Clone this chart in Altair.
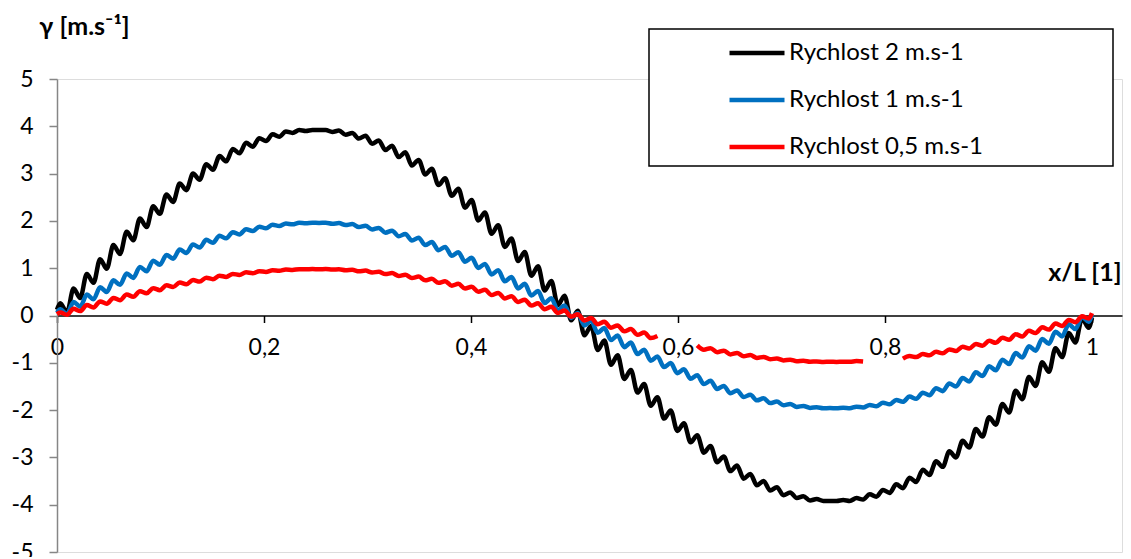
import altair as alt
import pandas as pd

SERIES = ["Rychlost 2 m.s-1", "Rychlost 1 m.s-1", "Rychlost 0,5 m.s-1"]
COLORS = ["#000000", "#0070C0", "#FF0000"]

N = 156  # sampled ripple extremes between the end points
X = [0.0] + [(k + 0.5) / N for k in range(N)] + [1.0]

BLACK = [0.12,
    0.26, 0.06, 0.57, 0.37, 0.88, 0.69, 1.19, 0.99, 1.49, 1.30, 1.77, 1.59, 2.05, 1.87, 2.31, 2.15, 2.56, 2.40, 2.79, 2.65,
    3.00, 2.87, 3.20, 3.08, 3.37, 3.26, 3.52, 3.43, 3.65, 3.57, 3.75, 3.69, 3.83, 3.78, 3.89, 3.86, 3.92, 3.90, 3.92,
    3.92, 3.92, 3.88, 3.91, 3.82, 3.86, 3.74, 3.80, 3.63, 3.70, 3.50, 3.59, 3.35, 3.45, 3.17, 3.29, 2.98, 3.10, 2.76, 2.90,
    2.53, 2.68, 2.28, 2.44, 2.01, 2.18, 1.73, 1.91, 1.45, 1.63, 1.15, 1.34, 0.84, 1.04, 0.53, 0.73, 0.22, 0.42, -0.10,
    0.10, -0.42, -0.22, -0.73, -0.53, -1.04, -0.84, -1.34, -1.15, -1.63, -1.45, -1.91, -1.73, -2.18, -2.01, -2.44, -2.28,
    -2.68, -2.53, -2.90, -2.76, -3.10, -2.98, -3.29, -3.17, -3.45, -3.35, -3.59, -3.50, -3.70, -3.63, -3.80, -3.74, -3.86,
    -3.82, -3.91, -3.88, -3.92, -3.92,
    -3.92, -3.90, -3.92, -3.86, -3.89, -3.78, -3.83, -3.69, -3.75, -3.57, -3.65, -3.43, -3.52, -3.26, -3.37, -3.08, -3.20,
    -2.87, -3.00, -2.65, -2.79, -2.40, -2.56, -2.15, -2.31, -1.87, -2.05, -1.59, -1.77, -1.30, -1.49, -0.99, -1.19, -0.69,
    -0.88, -0.37, -0.57, -0.06, -0.26,
    -0.05]

BLUE = [0.06,
    0.130, 0.028, 0.287, 0.186, 0.442, 0.343, 0.595, 0.497, 0.743, 0.649, 0.887, 0.795, 1.025, 0.937, 1.156, 1.073, 1.280,
    1.201, 1.395, 1.323, 1.502, 1.435, 1.599, 1.538, 1.685, 1.631, 1.761, 1.714, 1.825, 1.785, 1.877, 1.844, 1.917, 1.892,
    1.944, 1.928, 1.959, 1.951, 1.962,
    1.958, 1.962, 1.941, 1.953, 1.912, 1.932, 1.870, 1.898, 1.817, 1.852, 1.751, 1.794, 1.674, 1.724, 1.586, 1.643, 1.488,
    1.552, 1.380, 1.450, 1.263, 1.338, 1.138, 1.219, 1.006, 1.091, 0.867, 0.956, 0.723, 0.816, 0.573, 0.669, 0.421, 0.519,
    0.265, 0.365, 0.108, 0.209, -0.051,
    0.051, -0.209, -0.108, -0.365, -0.265, -0.519, -0.421, -0.669, -0.573, -0.816, -0.723, -0.956, -0.867, -1.091, -1.006,
    -1.219, -1.138, -1.338, -1.263, -1.450, -1.380, -1.552, -1.488, -1.643, -1.586, -1.724, -1.674, -1.794, -1.751, -1.852,
    -1.817, -1.898, -1.870, -1.932, -1.912, -1.953, -1.941, -1.962, -1.958,
    -1.962, -1.951, -1.959, -1.928, -1.944, -1.892, -1.917, -1.844, -1.877, -1.785, -1.825, -1.714, -1.761, -1.631, -1.685,
    -1.538, -1.599, -1.435, -1.502, -1.323, -1.395, -1.201, -1.280, -1.073, -1.156, -0.937, -1.025, -0.795, -0.887, -0.649,
    -0.743, -0.497, -0.595, -0.343, -0.442, -0.186, -0.287, -0.028, -0.130,
    0.02]

# gaps where the tick labels "0,6" and "0,8" cover the red line
RED = [0.03,
    0.065, 0.014, 0.143, 0.093, 0.221, 0.171, 0.297, 0.249, 0.372, 0.324, 0.443, 0.398, 0.512, 0.469, 0.578, 0.536, 0.640,
    0.601, 0.697, 0.661, 0.751, 0.717, 0.799, 0.769, 0.842, 0.816, 0.880, 0.857, 0.912, 0.893, 0.938, 0.922, 0.958, 0.946,
    0.972, 0.964, 0.980, 0.976, 0.981,
    0.979, 0.981, 0.971, 0.977, 0.956, 0.966, 0.935, 0.949, 0.908, 0.926, 0.875, 0.897, 0.837, 0.862, 0.793, 0.822, 0.744,
    0.776, 0.690, 0.725, 0.631, 0.669, 0.569, 0.609, 0.503, 0.546, 0.433, 0.478, 0.361, 0.408, 0.287, 0.335, 0.210, 0.259,
    0.133, 0.183, 0.054, 0.104, -0.025,
    0.025, -0.104, -0.054, -0.183, -0.133, -0.259, -0.210, -0.335, -0.287, -0.408, -0.361, -0.478, -0.433,
    None, None, None, None, None,
    -0.631, -0.725, -0.690, -0.776, -0.744, -0.822, -0.793, -0.862, -0.837, -0.897, -0.875, -0.926, -0.908, -0.949, -0.935,
    -0.966, -0.956, -0.977, -0.971, -0.981, -0.979,
    -0.981, -0.976, -0.980, -0.964, -0.972,
    None, None, None, None, None,
    -0.912, -0.857, -0.880, -0.816, -0.842, -0.769, -0.799, -0.717, -0.751, -0.661, -0.697, -0.601, -0.640, -0.536, -0.578,
    -0.469, -0.512, -0.398, -0.443, -0.324, -0.372, -0.249, -0.297, -0.171, -0.221, -0.093, -0.143, -0.014, -0.065,
    0.05]

X_TICKS = [0, 0.2, 0.4, 0.6, 0.8, 1]
Y_TICKS = [-5, -4, -3, -2, -1, 0, 1, 2, 3, 4, 5]

rows = []
for name, vals in zip(SERIES, [BLACK, BLUE, RED]):
    for x, y in zip(X, vals):
        rows.append({"series": name, "x": x, "y": y})
df = pd.DataFrame(rows)

FONT = "Lato"
FS = 23

x_enc = alt.X(
    "x:Q",
    scale=alt.Scale(domain=[0, 1.029], nice=False, zero=False),
    axis=alt.Axis(
        values=X_TICKS,
        labelExpr="replace('' + datum.value, '.', ',')",
        offset=-236.5,
        grid=False,
        domainColor="#000000",
        domainWidth=1.5,
        tickColor="#000000",
        tickWidth=1.5,
        tickSize=7,
        labelPadding=14,
        labelFont=FONT,
        labelFontSize=FS,
        labelColor="#000000",
        labelFlush=False,
        title="x/L [1]",
        titleFont=FONT,
        titleFontSize=25,
        titleFontWeight="bold",
        titleColor="#000000",
        titleAngle=0,
        titleX=1064,
        titleY=-43,
        titleAlign="right",
        titleBaseline="middle",
    ),
)
y_enc = alt.Y(
    "y:Q",
    scale=alt.Scale(domain=[-5, 5], nice=False, zero=False),
    axis=alt.Axis(
        values=Y_TICKS,
        labelExpr="'' + datum.value",
        grid=False,
        domainColor="#868686",
        domainWidth=1.5,
        tickColor="#868686",
        tickWidth=1.5,
        tickSize=8,
        labelPadding=16,
        labelFont=FONT,
        labelFontSize=FS,
        labelColor="#000000",
        labelFlush=False,
        title="γ [m.s⁻¹]",
        titleFont=FONT,
        titleFontSize=25,
        titleFontWeight="bold",
        titleColor="#000000",
        titleAngle=0,
        titleX=27,
        titleY=-53,
        titleAlign="center",
        titleBaseline="middle",
    ),
)
color_enc = alt.Color(
    "series:N",
    scale=alt.Scale(domain=SERIES, range=COLORS),
    legend=alt.Legend(
        title=None,
        orient="none",
        legendX=670,
        legendY=-56,
        symbolType="stroke",
        symbolSize=3025,
        symbolStrokeWidth=4.5,
        labelFont=FONT,
        labelFontSize=24,
        labelColor="#000000",
        labelOffset=2,
        labelLimit=400,
        rowPadding=5,
        padding=0,
    ),
)

frame = alt.Chart(pd.DataFrame({"f": [0]})).mark_rect(
    fill="white", stroke="black", strokeWidth=1.5
).encode(x=alt.value(592), x2=alt.value(1056), y=alt.value(-50), y2=alt.value(87))

layers = [frame]
for name in SERIES:
    layers.append(
        alt.Chart(df)
        .transform_filter(alt.datum.series == name)
        .mark_line(strokeWidth=4.5, interpolate="monotone", invalid="break-paths-filter-domains")
        .encode(x=x_enc, y=y_enc, color=color_enc)
    )

chart = (
    alt.layer(*layers)
    .properties(
        width=1065,
        height=473,
        autosize=alt.AutoSizeParams(type="none"),
        padding={"left": 49, "top": 71, "right": 1, "bottom": 5},
    )
    .configure_view(stroke=None)
    .configure(background="white")
)

chart.save("out.html", embed_options={"renderer": "svg", "actions": False})
